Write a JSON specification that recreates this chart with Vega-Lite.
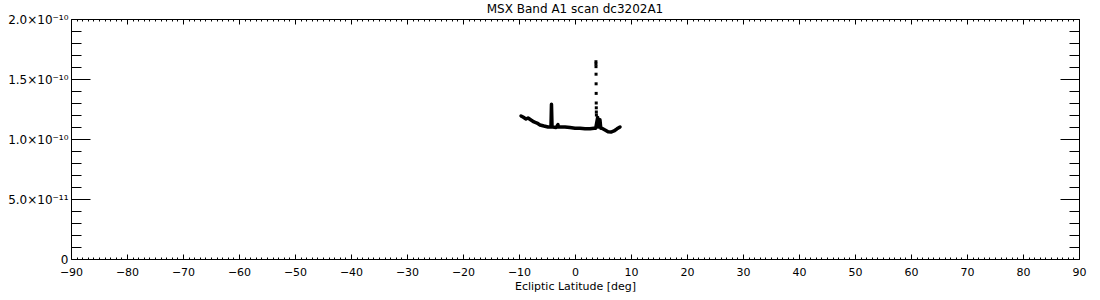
{
  "$schema": "https://vega.github.io/schema/vega-lite/v6.json",
  "width": 1008,
  "height": 240,
  "autosize": {"type": "none"},
  "padding": {"left": 71, "top": 19, "right": 21, "bottom": 41},
  "background": "white",
  "title": {"text": "MSX Band A1 scan dc3202A1", "font": "DejaVu Sans", "fontSize": 12, "fontWeight": "normal", "color": "black", "anchor": "middle", "offset": -3},
  "config": {
    "view": {"stroke": null},
    "axis": {"domainColor": "black", "tickColor": "black", "labelColor": "black", "titleColor": "black", "labelFont": "DejaVu Sans", "titleFont": "DejaVu Sans", "labelFontSize": 11, "titleFontSize": 11, "titleFontWeight": "normal", "grid": false, "labelOverlap": false, "labelFlush": false, "domainWidth": 1, "tickWidth": 1}
  },
  "datasets": {
    "scan": [
      {"lat": -9.64, "flux": 1.192e-10},
      {"lat": -9.29, "flux": 1.183e-10},
      {"lat": -8.75, "flux": 1.167e-10},
      {"lat": -8.39, "flux": 1.175e-10},
      {"lat": -7.86, "flux": 1.158e-10},
      {"lat": -7.32, "flux": 1.142e-10},
      {"lat": -6.79, "flux": 1.133e-10},
      {"lat": -6.25, "flux": 1.117e-10},
      {"lat": -5.54, "flux": 1.108e-10},
      {"lat": -4.82, "flux": 1.100e-10},
      {"lat": -4.29, "flux": 1.100e-10},
      {"lat": -4.2, "flux": 1.29e-10},
      {"lat": -4.1, "flux": 1.10e-10},
      {"lat": -3.93, "flux": 1.10e-10},
      {"lat": -3.39, "flux": 1.095e-10},
      {"lat": -3.05, "flux": 1.12e-10},
      {"lat": -2.95, "flux": 1.10e-10},
      {"lat": -2.68, "flux": 1.10e-10},
      {"lat": -1.79, "flux": 1.10e-10},
      {"lat": -0.9, "flux": 1.095e-10},
      {"lat": 0.0, "flux": 1.09e-10},
      {"lat": 0.9, "flux": 1.09e-10},
      {"lat": 1.79, "flux": 1.085e-10},
      {"lat": 2.68, "flux": 1.085e-10},
      {"lat": 3.4, "flux": 1.09e-10},
      {"lat": 3.7, "flux": 1.09e-10},
      {"lat": 4.05, "flux": 1.18e-10},
      {"lat": 4.15, "flux": 1.10e-10},
      {"lat": 4.3, "flux": 1.11e-10},
      {"lat": 4.46, "flux": 1.16e-10},
      {"lat": 4.6, "flux": 1.09e-10},
      {"lat": 4.8, "flux": 1.09e-10},
      {"lat": 5.36, "flux": 1.075e-10},
      {"lat": 5.9, "flux": 1.06e-10},
      {"lat": 6.43, "flux": 1.058e-10},
      {"lat": 6.96, "flux": 1.067e-10},
      {"lat": 7.5, "flux": 1.085e-10},
      {"lat": 8.04, "flux": 1.10e-10}
    ],
    "spike": [
      {"lat": 3.74, "flux": 1.644e-10},
      {"lat": 3.74, "flux": 1.625e-10},
      {"lat": 3.75, "flux": 1.603e-10},
      {"lat": 3.76, "flux": 1.54e-10},
      {"lat": 3.77, "flux": 1.46e-10},
      {"lat": 3.78, "flux": 1.38e-10},
      {"lat": 3.79, "flux": 1.30e-10},
      {"lat": 3.8, "flux": 1.26e-10},
      {"lat": 3.81, "flux": 1.225e-10},
      {"lat": 3.82, "flux": 1.20e-10}
    ]
  },
  "layer": [
    {
      "data": {"name": "scan"},
      "mark": {"type": "line", "color": "black", "strokeWidth": 3.5, "strokeJoin": "round", "strokeCap": "round"},
      "encoding": {
        "x": {"field": "lat", "type": "quantitative", "sort": null,
          "scale": {"domain": [-90, 90], "nice": false, "zero": false},
          "axis": {"orient": "bottom", "title": "Ecliptic Latitude [deg]", "titlePadding": 0,
            "values": [-90,-89,-88,-87,-86,-85,-84,-83,-82,-81,-80,-79,-78,-77,-76,-75,-74,-73,-72,-71,-70,-69,-68,-67,-66,-65,-64,-63,-62,-61,-60,-59,-58,-57,-56,-55,-54,-53,-52,-51,-50,-49,-48,-47,-46,-45,-44,-43,-42,-41,-40,-39,-38,-37,-36,-35,-34,-33,-32,-31,-30,-29,-28,-27,-26,-25,-24,-23,-22,-21,-20,-19,-18,-17,-16,-15,-14,-13,-12,-11,-10,-9,-8,-7,-6,-5,-4,-3,-2,-1,0,1,2,3,4,5,6,7,8,9,10,11,12,13,14,15,16,17,18,19,20,21,22,23,24,25,26,27,28,29,30,31,32,33,34,35,36,37,38,39,40,41,42,43,44,45,46,47,48,49,50,51,52,53,54,55,56,57,58,59,60,61,62,63,64,65,66,67,68,69,70,71,72,73,74,75,76,77,78,79,80,81,82,83,84,85,86,87,88,89,90],
            "labelExpr": "datum.value % 10 === 0 ? (datum.value < 0 ? '−' + abs(datum.value) : '' + datum.value) : ''",
            "tickSize": {"condition": {"test": "datum.value % 10 === 0", "value": -5}, "value": -2},
            "labelPadding": 12}},
        "y": {"field": "flux", "type": "quantitative",
          "scale": {"domain": [0, 2e-10], "nice": false, "zero": false},
          "axis": {"orient": "left", "title": null, "labelFontSize": 12,
            "values": [0,1e-11,2e-11,3e-11,4e-11,5e-11,6e-11,7e-11,8e-11,9e-11,1e-10,1.1e-10,1.2e-10,1.3e-10,1.4e-10,1.5e-10,1.6e-10,1.7e-10,1.8e-10,1.9e-10,2e-10],
            "labelExpr": "round(datum.value*1e11) == 0 ? '0' : round(datum.value*1e11) == 5 ? '5.0×10⁻¹¹' : round(datum.value*1e11) == 10 ? '1.0×10⁻¹⁰' : round(datum.value*1e11) == 15 ? '1.5×10⁻¹⁰' : round(datum.value*1e11) == 20 ? '2.0×10⁻¹⁰' : ''",
            "tickSize": {"condition": {"test": "round(datum.value*1e11) % 5 == 0", "value": -19}, "value": -10},
            "labelPadding": 22}}
      }
    },
    {
      "data": {"name": "spike"},
      "mark": {"type": "point", "shape": "square", "filled": true, "color": "black", "size": 9, "opacity": 1},
      "encoding": {
        "x": {"field": "lat", "type": "quantitative",
          "scale": {"domain": [-90, 90], "nice": false, "zero": false},
          "axis": {"orient": "top", "title": null, "labels": false,
            "values": [-90,-89,-88,-87,-86,-85,-84,-83,-82,-81,-80,-79,-78,-77,-76,-75,-74,-73,-72,-71,-70,-69,-68,-67,-66,-65,-64,-63,-62,-61,-60,-59,-58,-57,-56,-55,-54,-53,-52,-51,-50,-49,-48,-47,-46,-45,-44,-43,-42,-41,-40,-39,-38,-37,-36,-35,-34,-33,-32,-31,-30,-29,-28,-27,-26,-25,-24,-23,-22,-21,-20,-19,-18,-17,-16,-15,-14,-13,-12,-11,-10,-9,-8,-7,-6,-5,-4,-3,-2,-1,0,1,2,3,4,5,6,7,8,9,10,11,12,13,14,15,16,17,18,19,20,21,22,23,24,25,26,27,28,29,30,31,32,33,34,35,36,37,38,39,40,41,42,43,44,45,46,47,48,49,50,51,52,53,54,55,56,57,58,59,60,61,62,63,64,65,66,67,68,69,70,71,72,73,74,75,76,77,78,79,80,81,82,83,84,85,86,87,88,89,90],
            "tickSize": {"condition": {"test": "datum.value % 10 === 0", "value": -5}, "value": -2}}},
        "y": {"field": "flux", "type": "quantitative",
          "scale": {"domain": [0, 2e-10], "nice": false, "zero": false},
          "axis": {"orient": "right", "title": null, "labels": false,
            "values": [0,1e-11,2e-11,3e-11,4e-11,5e-11,6e-11,7e-11,8e-11,9e-11,1e-10,1.1e-10,1.2e-10,1.3e-10,1.4e-10,1.5e-10,1.6e-10,1.7e-10,1.8e-10,1.9e-10,2e-10],
            "tickSize": {"condition": {"test": "round(datum.value*1e11) % 5 == 0", "value": -19}, "value": -10}}}
      }
    }
  ],
  "resolve": {"axis": {"x": "independent", "y": "independent"}}
}
